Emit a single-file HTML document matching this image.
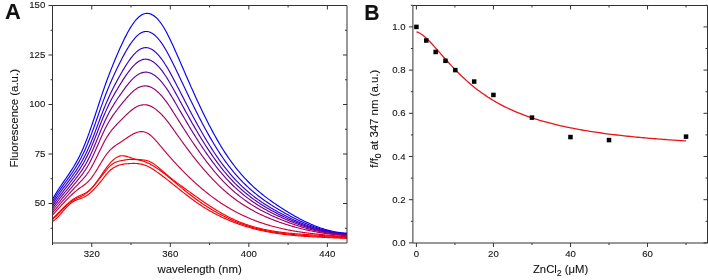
<!DOCTYPE html>
<html><head><meta charset="utf-8"><style>
html,body{margin:0;padding:0;background:#fff;width:708px;height:280px;overflow:hidden}
svg{display:block;will-change:transform}
text{font-family:"Liberation Sans",sans-serif;fill:#111;stroke:#111;stroke-width:0.1px}
</style></head><body>
<svg width="708" height="280" viewBox="0 0 708 280" font-family="Liberation Sans, sans-serif" fill="#222">
<defs><clipPath id="clipA"><rect x="52.5" y="5.5" width="294.5" height="237.5"/></clipPath></defs>
<rect x="0" y="0" width="708" height="280" fill="#fff"/>
<g clip-path="url(#clipA)"><path d="M52.5,199.38 53.5,197.56 54.5,195.80 55.5,194.10 56.5,192.45 57.5,190.85 58.5,189.29 59.5,187.76 60.5,186.25 61.5,184.78 62.5,183.32 63.5,181.87 64.5,180.43 65.5,179.00 66.5,177.56 67.5,176.11 68.5,174.65 69.5,173.17 70.5,171.66 71.5,170.13 72.5,168.56 73.5,166.95 74.5,165.29 75.5,163.59 76.5,161.82 77.5,160.00 78.5,158.11 79.5,156.14 80.5,154.10 81.5,151.97 82.5,149.76 83.5,147.45 84.5,145.05 85.5,142.56 86.5,139.99 87.5,137.35 88.5,134.64 89.5,131.86 90.5,129.03 91.5,126.15 92.5,123.22 93.5,120.25 94.5,117.25 95.5,114.22 96.5,111.17 97.5,108.11 98.5,105.03 99.5,101.96 100.5,98.91 101.5,95.88 102.5,92.90 103.5,89.97 104.5,87.09 105.5,84.27 106.5,81.50 107.5,78.78 108.5,76.10 109.5,73.47 110.5,70.89 111.5,68.34 112.5,65.84 113.5,63.37 114.5,60.95 115.5,58.55 116.5,56.19 117.5,53.87 118.5,51.57 119.5,49.31 120.5,47.08 121.5,44.89 122.5,42.75 123.5,40.66 124.5,38.61 125.5,36.62 126.5,34.69 127.5,32.82 128.5,31.02 129.5,29.28 130.5,27.61 131.5,26.02 132.5,24.51 133.5,23.08 134.5,21.74 135.5,20.48 136.5,19.32 137.5,18.26 138.5,17.29 139.5,16.43 140.5,15.67 141.5,15.02 142.5,14.48 143.5,14.05 144.5,13.72 145.5,13.50 146.5,13.39 147.5,13.38 148.5,13.47 149.5,13.67 150.5,13.98 151.5,14.38 152.5,14.89 153.5,15.50 154.5,16.21 155.5,17.02 156.5,17.93 157.5,18.94 158.5,20.05 159.5,21.25 160.5,22.56 161.5,23.96 162.5,25.45 163.5,27.04 164.5,28.72 165.5,30.48 166.5,32.31 167.5,34.21 168.5,36.18 169.5,38.20 170.5,40.27 171.5,42.39 172.5,44.55 173.5,46.74 174.5,48.95 175.5,51.19 176.5,53.45 177.5,55.72 178.5,58.01 179.5,60.31 180.5,62.61 181.5,64.92 182.5,67.24 183.5,69.56 184.5,71.87 185.5,74.19 186.5,76.49 187.5,78.79 188.5,81.07 189.5,83.35 190.5,85.61 191.5,87.86 192.5,90.10 193.5,92.32 194.5,94.53 195.5,96.73 196.5,98.91 197.5,101.07 198.5,103.22 199.5,105.35 200.5,107.47 201.5,109.57 202.5,111.65 203.5,113.71 204.5,115.76 205.5,117.78 206.5,119.78 207.5,121.77 208.5,123.73 209.5,125.67 210.5,127.59 211.5,129.49 212.5,131.36 213.5,133.21 214.5,135.04 215.5,136.84 216.5,138.61 217.5,140.36 218.5,142.09 219.5,143.79 220.5,145.46 221.5,147.10 222.5,148.72 223.5,150.30 224.5,151.86 225.5,153.40 226.5,154.90 227.5,156.38 228.5,157.83 229.5,159.26 230.5,160.66 231.5,162.04 232.5,163.39 233.5,164.72 234.5,166.02 235.5,167.30 236.5,168.56 237.5,169.79 238.5,171.01 239.5,172.20 240.5,173.37 241.5,174.52 242.5,175.65 243.5,176.76 244.5,177.84 245.5,178.91 246.5,179.97 247.5,181.00 248.5,182.01 249.5,183.01 250.5,183.99 251.5,184.95 252.5,185.90 253.5,186.83 254.5,187.74 255.5,188.64 256.5,189.53 257.5,190.40 258.5,191.25 259.5,192.10 260.5,192.93 261.5,193.74 262.5,194.55 263.5,195.34 264.5,196.12 265.5,196.89 266.5,197.65 267.5,198.40 268.5,199.14 269.5,199.87 270.5,200.59 271.5,201.30 272.5,202.00 273.5,202.70 274.5,203.38 275.5,204.06 276.5,204.74 277.5,205.40 278.5,206.07 279.5,206.72 280.5,207.37 281.5,208.02 282.5,208.66 283.5,209.29 284.5,209.92 285.5,210.55 286.5,211.17 287.5,211.78 288.5,212.39 289.5,212.99 290.5,213.58 291.5,214.17 292.5,214.76 293.5,215.33 294.5,215.90 295.5,216.46 296.5,217.02 297.5,217.57 298.5,218.11 299.5,218.64 300.5,219.17 301.5,219.69 302.5,220.20 303.5,220.70 304.5,221.20 305.5,221.69 306.5,222.17 307.5,222.64 308.5,223.10 309.5,223.55 310.5,224.00 311.5,224.43 312.5,224.86 313.5,225.28 314.5,225.68 315.5,226.08 316.5,226.47 317.5,226.85 318.5,227.22 319.5,227.58 320.5,227.93 321.5,228.27 322.5,228.60 323.5,228.92 324.5,229.23 325.5,229.52 326.5,229.81 327.5,230.09 328.5,230.35 329.5,230.60 330.5,230.84 331.5,231.07 332.5,231.29 333.5,231.50 334.5,231.69 335.5,231.88 336.5,232.05 337.5,232.20 338.5,232.35 339.5,232.48 340.5,232.60 341.5,232.71 342.5,232.80 343.5,232.89 344.5,232.95 345.5,233.01 347.0,233.06" fill="none" stroke="rgb(0,0,255)" stroke-width="1.15" stroke-linejoin="round"/>
<path d="M52.5,201.62 53.5,199.91 54.5,198.25 55.5,196.64 56.5,195.06 57.5,193.53 58.5,192.03 59.5,190.57 60.5,189.12 61.5,187.70 62.5,186.30 63.5,184.90 64.5,183.52 65.5,182.14 66.5,180.76 67.5,179.38 68.5,177.98 69.5,176.58 70.5,175.15 71.5,173.71 72.5,172.23 73.5,170.73 74.5,169.19 75.5,167.62 76.5,166.00 77.5,164.33 78.5,162.61 79.5,160.83 80.5,158.99 81.5,157.09 82.5,155.10 83.5,153.04 84.5,150.89 85.5,148.67 86.5,146.37 87.5,144.00 88.5,141.56 89.5,139.05 90.5,136.48 91.5,133.85 92.5,131.17 93.5,128.44 94.5,125.68 95.5,122.88 96.5,120.06 97.5,117.22 98.5,114.37 99.5,111.52 100.5,108.68 101.5,105.86 102.5,103.09 103.5,100.36 104.5,97.69 105.5,95.07 106.5,92.50 107.5,89.99 108.5,87.53 109.5,85.13 110.5,82.78 111.5,80.48 112.5,78.22 113.5,76.00 114.5,73.83 115.5,71.69 116.5,69.58 117.5,67.51 118.5,65.46 119.5,63.44 120.5,61.46 121.5,59.50 122.5,57.58 123.5,55.70 124.5,53.86 125.5,52.07 126.5,50.32 127.5,48.63 128.5,47.00 129.5,45.42 130.5,43.91 131.5,42.47 132.5,41.10 133.5,39.81 134.5,38.59 135.5,37.46 136.5,36.42 137.5,35.46 138.5,34.60 139.5,33.84 140.5,33.18 141.5,32.62 142.5,32.17 143.5,31.83 144.5,31.60 145.5,31.47 146.5,31.46 147.5,31.54 148.5,31.74 149.5,32.03 150.5,32.43 151.5,32.93 152.5,33.52 153.5,34.21 154.5,35.00 155.5,35.87 156.5,36.84 157.5,37.90 158.5,39.04 159.5,40.26 160.5,41.57 161.5,42.96 162.5,44.43 163.5,45.98 164.5,47.59 165.5,49.28 166.5,51.02 167.5,52.81 168.5,54.66 169.5,56.55 170.5,58.47 171.5,60.44 172.5,62.43 173.5,64.45 174.5,66.50 175.5,68.56 176.5,70.63 177.5,72.72 178.5,74.81 179.5,76.92 180.5,79.03 181.5,81.14 182.5,83.26 183.5,85.37 184.5,87.49 185.5,89.60 186.5,91.70 187.5,93.79 188.5,95.87 189.5,97.94 190.5,100.00 191.5,102.05 192.5,104.09 193.5,106.11 194.5,108.12 195.5,110.11 196.5,112.10 197.5,114.06 198.5,116.02 199.5,117.95 200.5,119.88 201.5,121.78 202.5,123.67 203.5,125.54 204.5,127.40 205.5,129.23 206.5,131.05 207.5,132.85 208.5,134.63 209.5,136.39 210.5,138.13 211.5,139.85 212.5,141.55 213.5,143.23 214.5,144.89 215.5,146.52 216.5,148.13 217.5,149.72 218.5,151.28 219.5,152.82 220.5,154.34 221.5,155.83 222.5,157.30 223.5,158.74 224.5,160.15 225.5,161.54 226.5,162.91 227.5,164.25 228.5,165.57 229.5,166.87 230.5,168.14 231.5,169.39 232.5,170.62 233.5,171.83 234.5,173.02 235.5,174.18 236.5,175.33 237.5,176.45 238.5,177.55 239.5,178.64 240.5,179.70 241.5,180.75 242.5,181.78 243.5,182.79 244.5,183.78 245.5,184.76 246.5,185.71 247.5,186.65 248.5,187.58 249.5,188.49 250.5,189.38 251.5,190.26 252.5,191.12 253.5,191.97 254.5,192.80 255.5,193.62 256.5,194.42 257.5,195.22 258.5,196.00 259.5,196.76 260.5,197.52 261.5,198.26 262.5,198.99 263.5,199.71 264.5,200.42 265.5,201.12 266.5,201.81 267.5,202.49 268.5,203.16 269.5,203.82 270.5,204.48 271.5,205.12 272.5,205.76 273.5,206.39 274.5,207.01 275.5,207.62 276.5,208.23 277.5,208.84 278.5,209.43 279.5,210.02 280.5,210.61 281.5,211.19 282.5,211.77 283.5,212.34 284.5,212.90 285.5,213.46 286.5,214.02 287.5,214.57 288.5,215.11 289.5,215.65 290.5,216.18 291.5,216.71 292.5,217.23 293.5,217.74 294.5,218.25 295.5,218.75 296.5,219.25 297.5,219.74 298.5,220.22 299.5,220.70 300.5,221.16 301.5,221.63 302.5,222.08 303.5,222.53 304.5,222.97 305.5,223.40 306.5,223.83 307.5,224.24 308.5,224.65 309.5,225.06 310.5,225.45 311.5,225.84 312.5,226.22 313.5,226.59 314.5,226.95 315.5,227.31 316.5,227.65 317.5,227.99 318.5,228.32 319.5,228.64 320.5,228.95 321.5,229.25 322.5,229.54 323.5,229.83 324.5,230.10 325.5,230.37 326.5,230.62 327.5,230.87 328.5,231.11 329.5,231.34 330.5,231.55 331.5,231.76 332.5,231.96 333.5,232.15 334.5,232.32 335.5,232.49 336.5,232.65 337.5,232.79 338.5,232.93 339.5,233.05 340.5,233.17 341.5,233.27 342.5,233.36 343.5,233.44 344.5,233.51 345.5,233.57 347.0,233.64" fill="none" stroke="rgb(26,0,229)" stroke-width="1.15" stroke-linejoin="round"/>
<path d="M52.5,203.87 53.5,202.26 54.5,200.70 55.5,199.17 56.5,197.67 57.5,196.21 58.5,194.78 59.5,193.37 60.5,191.99 61.5,190.62 62.5,189.27 63.5,187.93 64.5,186.60 65.5,185.28 66.5,183.95 67.5,182.63 68.5,181.30 69.5,179.96 70.5,178.61 71.5,177.24 72.5,175.86 73.5,174.45 74.5,173.02 75.5,171.56 76.5,170.06 77.5,168.54 78.5,166.97 79.5,165.36 80.5,163.70 81.5,161.99 82.5,160.21 83.5,158.36 84.5,156.44 85.5,154.45 86.5,152.38 87.5,150.25 88.5,148.04 89.5,145.76 90.5,143.41 91.5,141.00 92.5,138.53 93.5,136.01 94.5,133.44 95.5,130.84 96.5,128.21 97.5,125.56 98.5,122.89 99.5,120.22 100.5,117.57 101.5,114.94 102.5,112.34 103.5,109.79 104.5,107.30 105.5,104.86 106.5,102.48 107.5,100.16 108.5,97.90 109.5,95.71 110.5,93.57 111.5,91.48 112.5,89.45 113.5,87.46 114.5,85.52 115.5,83.61 116.5,81.73 117.5,79.89 118.5,78.07 119.5,76.27 120.5,74.50 121.5,72.76 122.5,71.04 123.5,69.35 124.5,67.69 125.5,66.08 126.5,64.50 127.5,62.97 128.5,61.49 129.5,60.07 130.5,58.70 131.5,57.39 132.5,56.15 133.5,54.98 134.5,53.89 135.5,52.87 136.5,51.93 137.5,51.07 138.5,50.31 139.5,49.63 140.5,49.06 141.5,48.58 142.5,48.20 143.5,47.91 144.5,47.72 145.5,47.64 146.5,47.65 147.5,47.77 148.5,47.99 149.5,48.30 150.5,48.71 151.5,49.21 152.5,49.80 153.5,50.48 154.5,51.25 155.5,52.10 156.5,53.03 157.5,54.04 158.5,55.13 159.5,56.30 160.5,57.54 161.5,58.86 162.5,60.24 163.5,61.69 164.5,63.20 165.5,64.78 166.5,66.40 167.5,68.08 168.5,69.81 169.5,71.58 170.5,73.38 171.5,75.22 172.5,77.08 173.5,78.97 174.5,80.87 175.5,82.78 176.5,84.71 177.5,86.64 178.5,88.58 179.5,90.53 180.5,92.48 181.5,94.43 182.5,96.38 183.5,98.33 184.5,100.28 185.5,102.22 186.5,104.16 187.5,106.08 188.5,108.00 189.5,109.90 190.5,111.80 191.5,113.68 192.5,115.55 193.5,117.41 194.5,119.25 195.5,121.08 196.5,122.90 197.5,124.71 198.5,126.50 199.5,128.28 200.5,130.04 201.5,131.79 202.5,133.52 203.5,135.24 204.5,136.94 205.5,138.62 206.5,140.28 207.5,141.93 208.5,143.56 209.5,145.18 210.5,146.77 211.5,148.35 212.5,149.90 213.5,151.44 214.5,152.96 215.5,154.45 216.5,155.93 217.5,157.38 218.5,158.81 219.5,160.23 220.5,161.61 221.5,162.98 222.5,164.32 223.5,165.64 224.5,166.94 225.5,168.22 226.5,169.47 227.5,170.70 228.5,171.91 229.5,173.10 230.5,174.27 231.5,175.42 232.5,176.55 233.5,177.66 234.5,178.75 235.5,179.82 236.5,180.87 237.5,181.91 238.5,182.92 239.5,183.92 240.5,184.90 241.5,185.86 242.5,186.80 243.5,187.73 244.5,188.64 245.5,189.54 246.5,190.42 247.5,191.29 248.5,192.14 249.5,192.97 250.5,193.79 251.5,194.60 252.5,195.39 253.5,196.17 254.5,196.94 255.5,197.69 256.5,198.43 257.5,199.16 258.5,199.88 259.5,200.58 260.5,201.28 261.5,201.96 262.5,202.63 263.5,203.30 264.5,203.95 265.5,204.59 266.5,205.22 267.5,205.85 268.5,206.46 269.5,207.07 270.5,207.66 271.5,208.25 272.5,208.84 273.5,209.41 274.5,209.98 275.5,210.54 276.5,211.10 277.5,211.65 278.5,212.19 279.5,212.73 280.5,213.26 281.5,213.79 282.5,214.31 283.5,214.83 284.5,215.35 285.5,215.85 286.5,216.36 287.5,216.85 288.5,217.35 289.5,217.83 290.5,218.31 291.5,218.79 292.5,219.26 293.5,219.72 294.5,220.18 295.5,220.63 296.5,221.08 297.5,221.52 298.5,221.95 299.5,222.38 300.5,222.80 301.5,223.21 302.5,223.62 303.5,224.02 304.5,224.42 305.5,224.81 306.5,225.19 307.5,225.56 308.5,225.93 309.5,226.29 310.5,226.64 311.5,226.99 312.5,227.33 313.5,227.66 314.5,227.99 315.5,228.31 316.5,228.62 317.5,228.92 318.5,229.21 319.5,229.50 320.5,229.78 321.5,230.05 322.5,230.32 323.5,230.57 324.5,230.82 325.5,231.06 326.5,231.29 327.5,231.51 328.5,231.73 329.5,231.94 330.5,232.13 331.5,232.32 332.5,232.50 333.5,232.68 334.5,232.84 335.5,232.99 336.5,233.14 337.5,233.28 338.5,233.40 339.5,233.52 340.5,233.63 341.5,233.73 342.5,233.82 343.5,233.90 344.5,233.97 345.5,234.04 347.0,234.11" fill="none" stroke="rgb(51,0,204)" stroke-width="1.15" stroke-linejoin="round"/>
<path d="M52.5,206.12 53.5,204.61 54.5,203.14 55.5,201.70 56.5,200.28 57.5,198.89 58.5,197.53 59.5,196.18 60.5,194.86 61.5,193.55 62.5,192.25 63.5,190.96 64.5,189.68 65.5,188.40 66.5,187.12 67.5,185.84 68.5,184.55 69.5,183.26 70.5,181.96 71.5,180.65 72.5,179.33 73.5,177.99 74.5,176.63 75.5,175.24 76.5,173.84 77.5,172.40 78.5,170.93 79.5,169.44 80.5,167.90 81.5,166.31 82.5,164.66 83.5,162.95 84.5,161.16 85.5,159.31 86.5,157.38 87.5,155.38 88.5,153.30 89.5,151.14 90.5,148.91 91.5,146.61 92.5,144.24 93.5,141.81 94.5,139.34 95.5,136.82 96.5,134.28 97.5,131.72 98.5,129.14 99.5,126.57 100.5,124.01 101.5,121.48 102.5,118.99 103.5,116.55 104.5,114.18 105.5,111.87 106.5,109.62 107.5,107.43 108.5,105.32 109.5,103.27 110.5,101.29 111.5,99.36 112.5,97.48 113.5,95.66 114.5,93.88 115.5,92.13 116.5,90.42 117.5,88.74 118.5,87.08 119.5,85.45 120.5,83.83 121.5,82.24 122.5,80.66 123.5,79.11 124.5,77.59 125.5,76.10 126.5,74.64 127.5,73.23 128.5,71.86 129.5,70.54 130.5,69.28 131.5,68.07 132.5,66.92 133.5,65.84 134.5,64.82 135.5,63.88 136.5,63.02 137.5,62.24 138.5,61.54 139.5,60.94 140.5,60.42 141.5,59.99 142.5,59.66 143.5,59.41 144.5,59.25 145.5,59.19 146.5,59.23 147.5,59.36 148.5,59.59 149.5,59.91 150.5,60.32 151.5,60.82 152.5,61.41 153.5,62.07 154.5,62.82 155.5,63.65 156.5,64.55 157.5,65.53 158.5,66.58 159.5,67.70 160.5,68.89 161.5,70.14 162.5,71.46 163.5,72.84 164.5,74.28 165.5,75.77 166.5,77.31 167.5,78.91 168.5,80.55 169.5,82.23 170.5,83.95 171.5,85.70 172.5,87.47 173.5,89.26 174.5,91.05 175.5,92.86 176.5,94.68 177.5,96.51 178.5,98.34 179.5,100.17 180.5,102.01 181.5,103.85 182.5,105.68 183.5,107.52 184.5,109.35 185.5,111.17 186.5,112.99 187.5,114.79 188.5,116.59 189.5,118.38 190.5,120.15 191.5,121.92 192.5,123.67 193.5,125.41 194.5,127.14 195.5,128.86 196.5,130.56 197.5,132.25 198.5,133.93 199.5,135.59 200.5,137.24 201.5,138.88 202.5,140.50 203.5,142.10 204.5,143.69 205.5,145.27 206.5,146.83 207.5,148.37 208.5,149.89 209.5,151.40 210.5,152.89 211.5,154.36 212.5,155.82 213.5,157.26 214.5,158.67 215.5,160.07 216.5,161.45 217.5,162.81 218.5,164.15 219.5,165.47 220.5,166.77 221.5,168.05 222.5,169.30 223.5,170.54 224.5,171.75 225.5,172.95 226.5,174.12 227.5,175.28 228.5,176.41 229.5,177.52 230.5,178.62 231.5,179.70 232.5,180.75 233.5,181.79 234.5,182.81 235.5,183.82 236.5,184.80 237.5,185.77 238.5,186.72 239.5,187.66 240.5,188.58 241.5,189.48 242.5,190.36 243.5,191.24 244.5,192.09 245.5,192.93 246.5,193.76 247.5,194.57 248.5,195.37 249.5,196.15 250.5,196.92 251.5,197.68 252.5,198.42 253.5,199.16 254.5,199.87 255.5,200.58 256.5,201.28 257.5,201.96 258.5,202.63 259.5,203.29 260.5,203.94 261.5,204.58 262.5,205.21 263.5,205.83 264.5,206.45 265.5,207.05 266.5,207.64 267.5,208.22 268.5,208.80 269.5,209.36 270.5,209.92 271.5,210.47 272.5,211.02 273.5,211.56 274.5,212.09 275.5,212.61 276.5,213.13 277.5,213.64 278.5,214.15 279.5,214.65 280.5,215.14 281.5,215.63 282.5,216.12 283.5,216.60 284.5,217.08 285.5,217.55 286.5,218.01 287.5,218.47 288.5,218.93 289.5,219.38 290.5,219.82 291.5,220.26 292.5,220.69 293.5,221.12 294.5,221.54 295.5,221.96 296.5,222.37 297.5,222.78 298.5,223.18 299.5,223.57 300.5,223.96 301.5,224.34 302.5,224.71 303.5,225.08 304.5,225.44 305.5,225.80 306.5,226.15 307.5,226.50 308.5,226.83 309.5,227.16 310.5,227.49 311.5,227.81 312.5,228.12 313.5,228.42 314.5,228.72 315.5,229.01 316.5,229.30 317.5,229.58 318.5,229.85 319.5,230.11 320.5,230.37 321.5,230.62 322.5,230.86 323.5,231.10 324.5,231.33 325.5,231.55 326.5,231.76 327.5,231.97 328.5,232.17 329.5,232.36 330.5,232.54 331.5,232.72 332.5,232.89 333.5,233.05 334.5,233.20 335.5,233.35 336.5,233.49 337.5,233.62 338.5,233.74 339.5,233.85 340.5,233.96 341.5,234.06 342.5,234.15 343.5,234.23 344.5,234.30 345.5,234.36 347.0,234.45" fill="none" stroke="rgb(77,0,178)" stroke-width="1.15" stroke-linejoin="round"/>
<path d="M52.5,208.35 53.5,206.95 54.5,205.57 55.5,204.21 56.5,202.88 57.5,201.56 58.5,200.26 59.5,198.97 60.5,197.70 61.5,196.45 62.5,195.20 63.5,193.97 64.5,192.73 65.5,191.50 66.5,190.27 67.5,189.04 68.5,187.81 69.5,186.57 70.5,185.33 71.5,184.08 72.5,182.83 73.5,181.56 74.5,180.28 75.5,178.99 76.5,177.68 77.5,176.36 78.5,175.01 79.5,173.64 80.5,172.24 81.5,170.80 82.5,169.31 83.5,167.76 84.5,166.14 85.5,164.46 86.5,162.70 87.5,160.87 88.5,158.95 89.5,156.96 90.5,154.88 91.5,152.71 92.5,150.48 93.5,148.19 94.5,145.84 95.5,143.46 96.5,141.04 97.5,138.60 98.5,136.15 99.5,133.70 100.5,131.26 101.5,128.86 102.5,126.50 103.5,124.20 104.5,121.97 105.5,119.80 106.5,117.70 107.5,115.68 108.5,113.72 109.5,111.84 110.5,110.03 111.5,108.28 112.5,106.59 113.5,104.94 114.5,103.35 115.5,101.79 116.5,100.27 117.5,98.77 118.5,97.30 119.5,95.84 120.5,94.40 121.5,92.98 122.5,91.56 123.5,90.17 124.5,88.79 125.5,87.45 126.5,86.13 127.5,84.85 128.5,83.61 129.5,82.41 130.5,81.26 131.5,80.16 132.5,79.12 133.5,78.13 134.5,77.21 135.5,76.36 136.5,75.59 137.5,74.89 138.5,74.27 139.5,73.74 140.5,73.29 141.5,72.91 142.5,72.61 143.5,72.38 144.5,72.23 145.5,72.16 146.5,72.18 147.5,72.29 148.5,72.48 149.5,72.75 150.5,73.11 151.5,73.54 152.5,74.05 153.5,74.64 154.5,75.29 155.5,76.03 156.5,76.83 157.5,77.70 158.5,78.63 159.5,79.64 160.5,80.71 161.5,81.84 162.5,83.03 163.5,84.29 164.5,85.60 165.5,86.97 166.5,88.40 167.5,89.88 168.5,91.42 169.5,93.00 170.5,94.64 171.5,96.30 172.5,97.97 173.5,99.66 174.5,101.35 175.5,103.06 176.5,104.77 177.5,106.49 178.5,108.21 179.5,109.93 180.5,111.65 181.5,113.37 182.5,115.09 183.5,116.80 184.5,118.51 185.5,120.22 186.5,121.91 187.5,123.60 188.5,125.28 189.5,126.95 190.5,128.60 191.5,130.25 192.5,131.88 193.5,133.51 194.5,135.12 195.5,136.72 196.5,138.31 197.5,139.88 198.5,141.44 199.5,142.99 200.5,144.53 201.5,146.05 202.5,147.56 203.5,149.05 204.5,150.53 205.5,151.99 206.5,153.44 207.5,154.88 208.5,156.29 209.5,157.70 210.5,159.08 211.5,160.45 212.5,161.80 213.5,163.14 214.5,164.46 215.5,165.76 216.5,167.04 217.5,168.30 218.5,169.55 219.5,170.78 220.5,171.98 221.5,173.17 222.5,174.34 223.5,175.49 224.5,176.62 225.5,177.73 226.5,178.82 227.5,179.90 228.5,180.95 229.5,181.99 230.5,183.01 231.5,184.01 232.5,185.00 233.5,185.97 234.5,186.92 235.5,187.86 236.5,188.78 237.5,189.68 238.5,190.57 239.5,191.44 240.5,192.30 241.5,193.14 242.5,193.97 243.5,194.78 244.5,195.58 245.5,196.36 246.5,197.13 247.5,197.89 248.5,198.64 249.5,199.37 250.5,200.09 251.5,200.79 252.5,201.49 253.5,202.17 254.5,202.84 255.5,203.50 256.5,204.15 257.5,204.79 258.5,205.42 259.5,206.03 260.5,206.64 261.5,207.24 262.5,207.82 263.5,208.40 264.5,208.97 265.5,209.53 266.5,210.08 267.5,210.63 268.5,211.16 269.5,211.69 270.5,212.21 271.5,212.72 272.5,213.22 273.5,213.72 274.5,214.22 275.5,214.70 276.5,215.18 277.5,215.65 278.5,216.12 279.5,216.59 280.5,217.04 281.5,217.50 282.5,217.95 283.5,218.39 284.5,218.83 285.5,219.26 286.5,219.69 287.5,220.11 288.5,220.53 289.5,220.94 290.5,221.35 291.5,221.75 292.5,222.15 293.5,222.54 294.5,222.92 295.5,223.31 296.5,223.68 297.5,224.05 298.5,224.41 299.5,224.77 300.5,225.13 301.5,225.47 302.5,225.82 303.5,226.15 304.5,226.48 305.5,226.81 306.5,227.13 307.5,227.44 308.5,227.75 309.5,228.05 310.5,228.34 311.5,228.63 312.5,228.92 313.5,229.19 314.5,229.47 315.5,229.73 316.5,229.99 317.5,230.24 318.5,230.49 319.5,230.73 320.5,230.97 321.5,231.19 322.5,231.42 323.5,231.63 324.5,231.84 325.5,232.04 326.5,232.24 327.5,232.43 328.5,232.61 329.5,232.79 330.5,232.96 331.5,233.12 332.5,233.28 333.5,233.43 334.5,233.57 335.5,233.71 336.5,233.84 337.5,233.96 338.5,234.08 339.5,234.19 340.5,234.29 341.5,234.39 342.5,234.47 343.5,234.56 344.5,234.63 345.5,234.70 347.0,234.78" fill="none" stroke="rgb(105,0,150)" stroke-width="1.15" stroke-linejoin="round"/>
<path d="M52.5,210.60 53.5,209.30 54.5,208.02 55.5,206.74 56.5,205.49 57.5,204.24 58.5,203.01 59.5,201.78 60.5,200.57 61.5,199.37 62.5,198.18 63.5,196.99 64.5,195.81 65.5,194.63 66.5,193.45 67.5,192.27 68.5,191.09 69.5,189.91 70.5,188.73 71.5,187.55 72.5,186.37 73.5,185.18 74.5,183.99 75.5,182.79 76.5,181.59 77.5,180.38 78.5,179.16 79.5,177.93 80.5,176.67 81.5,175.39 82.5,174.06 83.5,172.69 84.5,171.25 85.5,169.74 86.5,168.17 87.5,166.51 88.5,164.78 89.5,162.95 90.5,161.04 91.5,159.03 92.5,156.95 93.5,154.80 94.5,152.60 95.5,150.35 96.5,148.07 97.5,145.76 98.5,143.45 99.5,141.13 100.5,138.84 101.5,136.57 102.5,134.35 103.5,132.19 104.5,130.10 105.5,128.10 106.5,126.15 107.5,124.29 108.5,122.50 109.5,120.80 110.5,119.16 111.5,117.60 112.5,116.10 113.5,114.65 114.5,113.24 115.5,111.88 116.5,110.55 117.5,109.25 118.5,107.97 119.5,106.70 120.5,105.45 121.5,104.20 122.5,102.96 123.5,101.72 124.5,100.51 125.5,99.31 126.5,98.14 127.5,97.00 128.5,95.88 129.5,94.81 130.5,93.78 131.5,92.80 132.5,91.86 133.5,90.98 134.5,90.16 135.5,89.41 136.5,88.72 137.5,88.10 138.5,87.57 139.5,87.11 140.5,86.74 141.5,86.43 142.5,86.19 143.5,86.01 144.5,85.92 145.5,85.90 146.5,85.96 147.5,86.11 148.5,86.34 149.5,86.65 150.5,87.04 151.5,87.50 152.5,88.04 153.5,88.64 154.5,89.31 155.5,90.05 156.5,90.85 157.5,91.71 158.5,92.64 159.5,93.62 160.5,94.65 161.5,95.74 162.5,96.88 163.5,98.07 164.5,99.31 165.5,100.60 166.5,101.95 167.5,103.34 168.5,104.78 169.5,106.26 170.5,107.79 171.5,109.33 172.5,110.89 173.5,112.46 174.5,114.03 175.5,115.61 176.5,117.19 177.5,118.77 178.5,120.35 179.5,121.93 180.5,123.51 181.5,125.09 182.5,126.66 183.5,128.23 184.5,129.80 185.5,131.35 186.5,132.90 187.5,134.44 188.5,135.97 189.5,137.49 190.5,139.00 191.5,140.50 192.5,141.99 193.5,143.47 194.5,144.94 195.5,146.39 196.5,147.84 197.5,149.27 198.5,150.69 199.5,152.10 200.5,153.49 201.5,154.87 202.5,156.24 203.5,157.60 204.5,158.94 205.5,160.27 206.5,161.58 207.5,162.88 208.5,164.17 209.5,165.44 210.5,166.70 211.5,167.94 212.5,169.17 213.5,170.38 214.5,171.57 215.5,172.75 216.5,173.92 217.5,175.06 218.5,176.19 219.5,177.30 220.5,178.40 221.5,179.48 222.5,180.54 223.5,181.58 224.5,182.61 225.5,183.62 226.5,184.61 227.5,185.59 228.5,186.55 229.5,187.49 230.5,188.42 231.5,189.33 232.5,190.23 233.5,191.11 234.5,191.98 235.5,192.83 236.5,193.67 237.5,194.49 238.5,195.30 239.5,196.09 240.5,196.87 241.5,197.64 242.5,198.40 243.5,199.14 244.5,199.87 245.5,200.58 246.5,201.29 247.5,201.98 248.5,202.66 249.5,203.32 250.5,203.98 251.5,204.63 252.5,205.26 253.5,205.88 254.5,206.49 255.5,207.10 256.5,207.69 257.5,208.27 258.5,208.84 259.5,209.40 260.5,209.96 261.5,210.50 262.5,211.03 263.5,211.56 264.5,212.08 265.5,212.59 266.5,213.09 267.5,213.58 268.5,214.07 269.5,214.55 270.5,215.02 271.5,215.48 272.5,215.94 273.5,216.39 274.5,216.84 275.5,217.27 276.5,217.71 277.5,218.13 278.5,218.56 279.5,218.97 280.5,219.38 281.5,219.79 282.5,220.19 283.5,220.59 284.5,220.98 285.5,221.37 286.5,221.75 287.5,222.13 288.5,222.50 289.5,222.86 290.5,223.23 291.5,223.58 292.5,223.93 293.5,224.28 294.5,224.62 295.5,224.96 296.5,225.29 297.5,225.62 298.5,225.94 299.5,226.26 300.5,226.57 301.5,226.87 302.5,227.17 303.5,227.47 304.5,227.76 305.5,228.05 306.5,228.33 307.5,228.60 308.5,228.87 309.5,229.14 310.5,229.40 311.5,229.65 312.5,229.90 313.5,230.14 314.5,230.38 315.5,230.61 316.5,230.84 317.5,231.06 318.5,231.28 319.5,231.49 320.5,231.70 321.5,231.90 322.5,232.10 323.5,232.29 324.5,232.47 325.5,232.65 326.5,232.83 327.5,233.00 328.5,233.16 329.5,233.32 330.5,233.47 331.5,233.62 332.5,233.76 333.5,233.90 334.5,234.03 335.5,234.15 336.5,234.27 337.5,234.39 338.5,234.50 339.5,234.60 340.5,234.70 341.5,234.79 342.5,234.88 343.5,234.96 344.5,235.03 345.5,235.10 347.0,235.20" fill="none" stroke="rgb(142,0,118)" stroke-width="1.15" stroke-linejoin="round"/>
<path d="M52.5,212.85 53.5,211.65 54.5,210.46 55.5,209.28 56.5,208.09 57.5,206.92 58.5,205.75 59.5,204.59 60.5,203.44 61.5,202.29 62.5,201.16 63.5,200.03 64.5,198.90 65.5,197.77 66.5,196.66 67.5,195.54 68.5,194.44 69.5,193.34 70.5,192.24 71.5,191.16 72.5,190.08 73.5,189.01 74.5,187.94 75.5,186.88 76.5,185.83 77.5,184.79 78.5,183.75 79.5,182.72 80.5,181.69 81.5,180.64 82.5,179.56 83.5,178.45 84.5,177.29 85.5,176.07 86.5,174.78 87.5,173.42 88.5,171.98 89.5,170.45 90.5,168.82 91.5,167.09 92.5,165.28 93.5,163.40 94.5,161.46 95.5,159.47 96.5,157.44 97.5,155.38 98.5,153.31 99.5,151.23 100.5,149.17 101.5,147.14 102.5,145.14 103.5,143.20 104.5,141.33 105.5,139.53 106.5,137.81 107.5,136.17 108.5,134.61 109.5,133.15 110.5,131.76 111.5,130.46 112.5,129.21 113.5,128.03 114.5,126.89 115.5,125.80 116.5,124.74 117.5,123.71 118.5,122.69 119.5,121.68 120.5,120.68 121.5,119.68 122.5,118.67 123.5,117.66 124.5,116.66 125.5,115.67 126.5,114.70 127.5,113.75 128.5,112.82 129.5,111.92 130.5,111.05 131.5,110.22 132.5,109.44 133.5,108.70 134.5,108.02 135.5,107.40 136.5,106.83 137.5,106.34 138.5,105.91 139.5,105.56 140.5,105.29 141.5,105.07 142.5,104.90 143.5,104.80 144.5,104.76 145.5,104.79 146.5,104.90 147.5,105.09 148.5,105.36 149.5,105.70 150.5,106.11 151.5,106.59 152.5,107.13 153.5,107.73 154.5,108.39 155.5,109.11 156.5,109.88 157.5,110.70 158.5,111.58 159.5,112.50 160.5,113.46 161.5,114.47 162.5,115.51 163.5,116.60 164.5,117.73 165.5,118.90 166.5,120.11 167.5,121.37 168.5,122.67 169.5,124.02 170.5,125.40 171.5,126.80 172.5,128.20 173.5,129.60 174.5,131.01 175.5,132.41 176.5,133.81 177.5,135.21 178.5,136.61 179.5,138.01 180.5,139.40 181.5,140.78 182.5,142.16 183.5,143.54 184.5,144.91 185.5,146.27 186.5,147.62 187.5,148.96 188.5,150.30 189.5,151.62 190.5,152.93 191.5,154.24 192.5,155.53 193.5,156.81 194.5,158.09 195.5,159.35 196.5,160.60 197.5,161.84 198.5,163.07 199.5,164.29 200.5,165.50 201.5,166.69 202.5,167.87 203.5,169.05 204.5,170.21 205.5,171.35 206.5,172.49 207.5,173.61 208.5,174.72 209.5,175.82 210.5,176.90 211.5,177.97 212.5,179.03 213.5,180.07 214.5,181.10 215.5,182.12 216.5,183.12 217.5,184.11 218.5,185.09 219.5,186.05 220.5,186.99 221.5,187.92 222.5,188.84 223.5,189.74 224.5,190.63 225.5,191.50 226.5,192.36 227.5,193.21 228.5,194.04 229.5,194.86 230.5,195.66 231.5,196.45 232.5,197.23 233.5,198.00 234.5,198.75 235.5,199.49 236.5,200.22 237.5,200.93 238.5,201.63 239.5,202.33 240.5,203.01 241.5,203.67 242.5,204.33 243.5,204.98 244.5,205.61 245.5,206.23 246.5,206.85 247.5,207.45 248.5,208.04 249.5,208.62 250.5,209.20 251.5,209.76 252.5,210.31 253.5,210.85 254.5,211.39 255.5,211.91 256.5,212.43 257.5,212.93 258.5,213.43 259.5,213.92 260.5,214.40 261.5,214.87 262.5,215.34 263.5,215.79 264.5,216.24 265.5,216.68 266.5,217.12 267.5,217.54 268.5,217.96 269.5,218.38 270.5,218.78 271.5,219.18 272.5,219.58 273.5,219.96 274.5,220.35 275.5,220.72 276.5,221.09 277.5,221.46 278.5,221.81 279.5,222.17 280.5,222.52 281.5,222.86 282.5,223.20 283.5,223.53 284.5,223.86 285.5,224.19 286.5,224.51 287.5,224.82 288.5,225.13 289.5,225.44 290.5,225.74 291.5,226.04 292.5,226.33 293.5,226.62 294.5,226.90 295.5,227.18 296.5,227.45 297.5,227.72 298.5,227.98 299.5,228.24 300.5,228.50 301.5,228.75 302.5,228.99 303.5,229.23 304.5,229.47 305.5,229.70 306.5,229.93 307.5,230.16 308.5,230.38 309.5,230.59 310.5,230.80 311.5,231.01 312.5,231.21 313.5,231.41 314.5,231.61 315.5,231.80 316.5,231.98 317.5,232.16 318.5,232.34 319.5,232.51 320.5,232.68 321.5,232.85 322.5,233.01 323.5,233.17 324.5,233.32 325.5,233.47 326.5,233.62 327.5,233.76 328.5,233.89 329.5,234.03 330.5,234.16 331.5,234.28 332.5,234.41 333.5,234.52 334.5,234.64 335.5,234.75 336.5,234.86 337.5,234.96 338.5,235.06 339.5,235.15 340.5,235.25 341.5,235.33 342.5,235.42 343.5,235.50 344.5,235.58 345.5,235.65 347.0,235.76" fill="none" stroke="rgb(172,0,88)" stroke-width="1.15" stroke-linejoin="round"/>
<path d="M52.5,215.10 53.5,214.00 54.5,212.91 55.5,211.81 56.5,210.70 57.5,209.60 58.5,208.50 59.5,207.40 60.5,206.31 61.5,205.22 62.5,204.14 63.5,203.06 64.5,202.00 65.5,200.95 66.5,199.91 67.5,198.89 68.5,197.88 69.5,196.89 70.5,195.92 71.5,194.97 72.5,194.04 73.5,193.14 74.5,192.26 75.5,191.41 76.5,190.59 77.5,189.79 78.5,189.03 79.5,188.30 80.5,187.59 81.5,186.90 82.5,186.20 83.5,185.49 84.5,184.75 85.5,183.97 86.5,183.14 87.5,182.25 88.5,181.28 89.5,180.22 90.5,179.06 91.5,177.80 92.5,176.45 93.5,175.02 94.5,173.53 95.5,171.97 96.5,170.37 97.5,168.73 98.5,167.07 99.5,165.40 100.5,163.72 101.5,162.05 102.5,160.41 103.5,158.81 104.5,157.25 105.5,155.76 106.5,154.35 107.5,153.02 108.5,151.79 109.5,150.67 110.5,149.64 111.5,148.70 112.5,147.82 113.5,147.02 114.5,146.26 115.5,145.55 116.5,144.87 117.5,144.22 118.5,143.58 119.5,142.94 120.5,142.30 121.5,141.64 122.5,140.96 123.5,140.28 124.5,139.58 125.5,138.89 126.5,138.19 127.5,137.51 128.5,136.84 129.5,136.18 130.5,135.55 131.5,134.95 132.5,134.38 133.5,133.85 134.5,133.36 135.5,132.92 136.5,132.53 137.5,132.20 138.5,131.94 139.5,131.74 140.5,131.61 141.5,131.56 142.5,131.60 143.5,131.72 144.5,131.94 145.5,132.25 146.5,132.67 147.5,133.19 148.5,133.81 149.5,134.51 150.5,135.29 151.5,136.15 152.5,137.07 153.5,138.05 154.5,139.09 155.5,140.17 156.5,141.29 157.5,142.44 158.5,143.61 159.5,144.80 160.5,146.00 161.5,147.20 162.5,148.40 163.5,149.59 164.5,150.78 165.5,151.95 166.5,153.12 167.5,154.27 168.5,155.42 169.5,156.56 170.5,157.69 171.5,158.81 172.5,159.93 173.5,161.03 174.5,162.13 175.5,163.22 176.5,164.30 177.5,165.37 178.5,166.43 179.5,167.48 180.5,168.52 181.5,169.56 182.5,170.58 183.5,171.60 184.5,172.61 185.5,173.61 186.5,174.60 187.5,175.58 188.5,176.55 189.5,177.52 190.5,178.47 191.5,179.41 192.5,180.35 193.5,181.28 194.5,182.19 195.5,183.10 196.5,184.00 197.5,184.89 198.5,185.77 199.5,186.64 200.5,187.50 201.5,188.36 202.5,189.20 203.5,190.03 204.5,190.86 205.5,191.67 206.5,192.48 207.5,193.28 208.5,194.06 209.5,194.84 210.5,195.61 211.5,196.36 212.5,197.11 213.5,197.85 214.5,198.58 215.5,199.30 216.5,200.01 217.5,200.71 218.5,201.40 219.5,202.08 220.5,202.75 221.5,203.41 222.5,204.06 223.5,204.70 224.5,205.33 225.5,205.96 226.5,206.57 227.5,207.18 228.5,207.77 229.5,208.36 230.5,208.94 231.5,209.51 232.5,210.07 233.5,210.62 234.5,211.16 235.5,211.70 236.5,212.22 237.5,212.74 238.5,213.25 239.5,213.75 240.5,214.25 241.5,214.73 242.5,215.21 243.5,215.68 244.5,216.14 245.5,216.60 246.5,217.04 247.5,217.48 248.5,217.92 249.5,218.34 250.5,218.76 251.5,219.17 252.5,219.57 253.5,219.96 254.5,220.35 255.5,220.74 256.5,221.11 257.5,221.48 258.5,221.84 259.5,222.19 260.5,222.54 261.5,222.88 262.5,223.22 263.5,223.55 264.5,223.87 265.5,224.19 266.5,224.50 267.5,224.81 268.5,225.10 269.5,225.40 270.5,225.69 271.5,225.97 272.5,226.24 273.5,226.51 274.5,226.78 275.5,227.04 276.5,227.29 277.5,227.54 278.5,227.79 279.5,228.03 280.5,228.26 281.5,228.49 282.5,228.72 283.5,228.94 284.5,229.15 285.5,229.36 286.5,229.57 287.5,229.77 288.5,229.97 289.5,230.16 290.5,230.35 291.5,230.54 292.5,230.72 293.5,230.90 294.5,231.07 295.5,231.24 296.5,231.41 297.5,231.57 298.5,231.73 299.5,231.88 300.5,232.03 301.5,232.18 302.5,232.33 303.5,232.47 304.5,232.61 305.5,232.75 306.5,232.88 307.5,233.01 308.5,233.14 309.5,233.26 310.5,233.39 311.5,233.51 312.5,233.62 313.5,233.74 314.5,233.85 315.5,233.96 316.5,234.07 317.5,234.18 318.5,234.28 319.5,234.39 320.5,234.49 321.5,234.59 322.5,234.68 323.5,234.78 324.5,234.87 325.5,234.97 326.5,235.06 327.5,235.15 328.5,235.24 329.5,235.33 330.5,235.41 331.5,235.50 332.5,235.59 333.5,235.67 334.5,235.76 335.5,235.84 336.5,235.92 337.5,236.00 338.5,236.09 339.5,236.17 340.5,236.25 341.5,236.33 342.5,236.41 343.5,236.49 344.5,236.57 345.5,236.66 347.0,236.78" fill="none" stroke="rgb(198,0,62)" stroke-width="1.15" stroke-linejoin="round"/>
<path d="M52.5,219.47 53.5,218.59 54.5,217.68 55.5,216.73 56.5,215.74 57.5,214.73 58.5,213.71 59.5,212.67 60.5,211.62 61.5,210.58 62.5,209.53 63.5,208.50 64.5,207.49 65.5,206.49 66.5,205.53 67.5,204.60 68.5,203.71 69.5,202.87 70.5,202.08 71.5,201.35 72.5,200.68 73.5,200.07 74.5,199.52 75.5,199.00 76.5,198.52 77.5,198.06 78.5,197.60 79.5,197.15 80.5,196.69 81.5,196.21 82.5,195.69 83.5,195.14 84.5,194.53 85.5,193.87 86.5,193.13 87.5,192.31 88.5,191.43 89.5,190.48 90.5,189.48 91.5,188.42 92.5,187.32 93.5,186.17 94.5,184.98 95.5,183.77 96.5,182.52 97.5,181.26 98.5,179.98 99.5,178.69 100.5,177.39 101.5,176.10 102.5,174.81 103.5,173.53 104.5,172.27 105.5,171.04 106.5,169.85 107.5,168.71 108.5,167.62 109.5,166.60 110.5,165.66 111.5,164.80 112.5,164.04 113.5,163.38 114.5,162.82 115.5,162.33 116.5,161.92 117.5,161.57 118.5,161.27 119.5,161.02 120.5,160.80 121.5,160.60 122.5,160.41 123.5,160.23 124.5,160.06 125.5,159.90 126.5,159.76 127.5,159.63 128.5,159.52 129.5,159.43 130.5,159.37 131.5,159.32 132.5,159.31 133.5,159.33 134.5,159.37 135.5,159.45 136.5,159.56 137.5,159.71 138.5,159.89 139.5,160.10 140.5,160.35 141.5,160.62 142.5,160.93 143.5,161.26 144.5,161.62 145.5,162.01 146.5,162.43 147.5,162.88 148.5,163.35 149.5,163.85 150.5,164.37 151.5,164.91 152.5,165.48 153.5,166.08 154.5,166.69 155.5,167.32 156.5,167.97 157.5,168.64 158.5,169.33 159.5,170.04 160.5,170.76 161.5,171.49 162.5,172.24 163.5,173.00 164.5,173.78 165.5,174.56 166.5,175.36 167.5,176.16 168.5,176.97 169.5,177.79 170.5,178.62 171.5,179.45 172.5,180.28 173.5,181.12 174.5,181.96 175.5,182.80 176.5,183.65 177.5,184.49 178.5,185.33 179.5,186.17 180.5,187.01 181.5,187.84 182.5,188.67 183.5,189.49 184.5,190.30 185.5,191.11 186.5,191.91 187.5,192.70 188.5,193.49 189.5,194.27 190.5,195.04 191.5,195.80 192.5,196.56 193.5,197.30 194.5,198.04 195.5,198.78 196.5,199.50 197.5,200.22 198.5,200.93 199.5,201.63 200.5,202.32 201.5,203.01 202.5,203.69 203.5,204.36 204.5,205.02 205.5,205.68 206.5,206.32 207.5,206.96 208.5,207.60 209.5,208.22 210.5,208.84 211.5,209.44 212.5,210.04 213.5,210.63 214.5,211.22 215.5,211.79 216.5,212.36 217.5,212.92 218.5,213.47 219.5,214.01 220.5,214.55 221.5,215.08 222.5,215.59 223.5,216.10 224.5,216.61 225.5,217.10 226.5,217.59 227.5,218.06 228.5,218.53 229.5,218.99 230.5,219.44 231.5,219.89 232.5,220.32 233.5,220.75 234.5,221.16 235.5,221.57 236.5,221.98 237.5,222.37 238.5,222.76 239.5,223.14 240.5,223.51 241.5,223.87 242.5,224.23 243.5,224.57 244.5,224.91 245.5,225.25 246.5,225.58 247.5,225.89 248.5,226.21 249.5,226.51 250.5,226.81 251.5,227.11 252.5,227.39 253.5,227.67 254.5,227.94 255.5,228.21 256.5,228.47 257.5,228.73 258.5,228.97 259.5,229.22 260.5,229.45 261.5,229.68 262.5,229.91 263.5,230.13 264.5,230.34 265.5,230.55 266.5,230.76 267.5,230.95 268.5,231.15 269.5,231.34 270.5,231.52 271.5,231.70 272.5,231.87 273.5,232.04 274.5,232.21 275.5,232.37 276.5,232.52 277.5,232.67 278.5,232.82 279.5,232.96 280.5,233.10 281.5,233.24 282.5,233.37 283.5,233.50 284.5,233.62 285.5,233.74 286.5,233.86 287.5,233.97 288.5,234.08 289.5,234.19 290.5,234.30 291.5,234.40 292.5,234.49 293.5,234.59 294.5,234.68 295.5,234.77 296.5,234.86 297.5,234.95 298.5,235.03 299.5,235.11 300.5,235.19 301.5,235.26 302.5,235.34 303.5,235.41 304.5,235.48 305.5,235.55 306.5,235.62 307.5,235.68 308.5,235.75 309.5,235.81 310.5,235.87 311.5,235.93 312.5,235.99 313.5,236.05 314.5,236.11 315.5,236.16 316.5,236.22 317.5,236.27 318.5,236.33 319.5,236.38 320.5,236.44 321.5,236.49 322.5,236.54 323.5,236.60 324.5,236.65 325.5,236.70 326.5,236.76 327.5,236.81 328.5,236.87 329.5,236.92 330.5,236.98 331.5,237.03 332.5,237.09 333.5,237.15 334.5,237.21 335.5,237.27 336.5,237.33 337.5,237.39 338.5,237.45 339.5,237.52 340.5,237.58 341.5,237.65 342.5,237.72 343.5,237.79 344.5,237.86 345.5,237.94 347.0,238.06" fill="none" stroke="rgb(240,0,10)" stroke-width="1.15" stroke-linejoin="round"/>
<path d="M52.5,221.41 53.5,220.76 54.5,220.01 55.5,219.18 56.5,218.28 57.5,217.31 58.5,216.28 59.5,215.22 60.5,214.12 61.5,213.00 62.5,211.86 63.5,210.72 64.5,209.59 65.5,208.48 66.5,207.39 67.5,206.34 68.5,205.34 69.5,204.40 70.5,203.53 71.5,202.73 72.5,202.02 73.5,201.41 74.5,200.86 75.5,200.38 76.5,199.95 77.5,199.56 78.5,199.19 79.5,198.84 80.5,198.49 81.5,198.13 82.5,197.75 83.5,197.33 84.5,196.86 85.5,196.34 86.5,195.74 87.5,195.07 88.5,194.33 89.5,193.52 90.5,192.65 91.5,191.73 92.5,190.76 93.5,189.74 94.5,188.69 95.5,187.60 96.5,186.48 97.5,185.34 98.5,184.17 99.5,182.98 100.5,181.77 101.5,180.53 102.5,179.27 103.5,177.99 104.5,176.71 105.5,175.44 106.5,174.21 107.5,173.04 108.5,171.96 109.5,170.96 110.5,170.05 111.5,169.22 112.5,168.47 113.5,167.79 114.5,167.18 115.5,166.64 116.5,166.15 117.5,165.73 118.5,165.36 119.5,165.04 120.5,164.76 121.5,164.52 122.5,164.32 123.5,164.15 124.5,164.01 125.5,163.89 126.5,163.79 127.5,163.71 128.5,163.63 129.5,163.57 130.5,163.51 131.5,163.47 132.5,163.44 133.5,163.43 134.5,163.43 135.5,163.45 136.5,163.50 137.5,163.58 138.5,163.68 139.5,163.81 140.5,163.97 141.5,164.17 142.5,164.41 143.5,164.68 144.5,165.00 145.5,165.36 146.5,165.77 147.5,166.22 148.5,166.70 149.5,167.22 150.5,167.78 151.5,168.36 152.5,168.98 153.5,169.61 154.5,170.27 155.5,170.95 156.5,171.64 157.5,172.35 158.5,173.07 159.5,173.79 160.5,174.53 161.5,175.27 162.5,176.02 163.5,176.78 164.5,177.55 165.5,178.32 166.5,179.09 167.5,179.88 168.5,180.66 169.5,181.45 170.5,182.24 171.5,183.04 172.5,183.84 173.5,184.64 174.5,185.44 175.5,186.24 176.5,187.04 177.5,187.85 178.5,188.65 179.5,189.45 180.5,190.25 181.5,191.04 182.5,191.84 183.5,192.63 184.5,193.42 185.5,194.20 186.5,194.98 187.5,195.75 188.5,196.51 189.5,197.27 190.5,198.03 191.5,198.77 192.5,199.51 193.5,200.24 194.5,200.96 195.5,201.67 196.5,202.37 197.5,203.06 198.5,203.75 199.5,204.42 200.5,205.08 201.5,205.74 202.5,206.38 203.5,207.02 204.5,207.64 205.5,208.26 206.5,208.87 207.5,209.47 208.5,210.06 209.5,210.64 210.5,211.21 211.5,211.78 212.5,212.33 213.5,212.88 214.5,213.42 215.5,213.95 216.5,214.47 217.5,214.99 218.5,215.49 219.5,215.99 220.5,216.48 221.5,216.96 222.5,217.43 223.5,217.90 224.5,218.36 225.5,218.81 226.5,219.25 227.5,219.69 228.5,220.12 229.5,220.54 230.5,220.95 231.5,221.36 232.5,221.76 233.5,222.15 234.5,222.54 235.5,222.91 236.5,223.29 237.5,223.65 238.5,224.01 239.5,224.36 240.5,224.71 241.5,225.04 242.5,225.38 243.5,225.70 244.5,226.02 245.5,226.33 246.5,226.64 247.5,226.94 248.5,227.24 249.5,227.52 250.5,227.81 251.5,228.08 252.5,228.36 253.5,228.62 254.5,228.88 255.5,229.14 256.5,229.38 257.5,229.63 258.5,229.87 259.5,230.10 260.5,230.33 261.5,230.55 262.5,230.77 263.5,230.98 264.5,231.19 265.5,231.39 266.5,231.59 267.5,231.79 268.5,231.98 269.5,232.16 270.5,232.34 271.5,232.52 272.5,232.69 273.5,232.86 274.5,233.02 275.5,233.18 276.5,233.33 277.5,233.48 278.5,233.63 279.5,233.77 280.5,233.91 281.5,234.05 282.5,234.18 283.5,234.31 284.5,234.44 285.5,234.56 286.5,234.68 287.5,234.79 288.5,234.91 289.5,235.01 290.5,235.12 291.5,235.22 292.5,235.32 293.5,235.42 294.5,235.52 295.5,235.61 296.5,235.70 297.5,235.78 298.5,235.87 299.5,235.95 300.5,236.03 301.5,236.11 302.5,236.18 303.5,236.26 304.5,236.33 305.5,236.40 306.5,236.46 307.5,236.53 308.5,236.59 309.5,236.65 310.5,236.71 311.5,236.77 312.5,236.83 313.5,236.89 314.5,236.94 315.5,236.99 316.5,237.05 317.5,237.10 318.5,237.15 319.5,237.20 320.5,237.24 321.5,237.29 322.5,237.34 323.5,237.38 324.5,237.43 325.5,237.47 326.5,237.52 327.5,237.56 328.5,237.60 329.5,237.65 330.5,237.69 331.5,237.73 332.5,237.77 333.5,237.82 334.5,237.86 335.5,237.90 336.5,237.94 337.5,237.99 338.5,238.03 339.5,238.07 340.5,238.12 341.5,238.16 342.5,238.21 343.5,238.26 344.5,238.30 345.5,238.35 347.0,238.43" fill="none" stroke="rgb(250,0,5)" stroke-width="1.15" stroke-linejoin="round"/>
<path d="M52.5,218.51 53.5,217.56 54.5,216.58 55.5,215.60 56.5,214.60 57.5,213.60 58.5,212.59 59.5,211.58 60.5,210.57 61.5,209.57 62.5,208.57 63.5,207.59 64.5,206.62 65.5,205.66 66.5,204.73 67.5,203.82 68.5,202.94 69.5,202.09 70.5,201.27 71.5,200.48 72.5,199.74 73.5,199.04 74.5,198.38 75.5,197.77 76.5,197.21 77.5,196.70 78.5,196.23 79.5,195.78 80.5,195.34 81.5,194.91 82.5,194.47 83.5,194.01 84.5,193.52 85.5,192.98 86.5,192.40 87.5,191.75 88.5,191.02 89.5,190.21 90.5,189.30 91.5,188.29 92.5,187.20 93.5,186.02 94.5,184.77 95.5,183.46 96.5,182.10 97.5,180.70 98.5,179.26 99.5,177.79 100.5,176.31 101.5,174.83 102.5,173.34 103.5,171.87 104.5,170.42 105.5,169.00 106.5,167.62 107.5,166.29 108.5,165.02 109.5,163.81 110.5,162.67 111.5,161.60 112.5,160.61 113.5,159.70 114.5,158.88 115.5,158.14 116.5,157.50 117.5,156.95 118.5,156.50 119.5,156.16 120.5,155.93 121.5,155.80 122.5,155.77 123.5,155.82 124.5,155.94 125.5,156.13 126.5,156.37 127.5,156.65 128.5,156.96 129.5,157.29 130.5,157.62 131.5,157.96 132.5,158.28 133.5,158.59 134.5,158.85 135.5,159.07 136.5,159.25 137.5,159.39 138.5,159.50 139.5,159.60 140.5,159.68 141.5,159.77 142.5,159.86 143.5,159.97 144.5,160.10 145.5,160.27 146.5,160.48 147.5,160.74 148.5,161.07 149.5,161.46 150.5,161.93 151.5,162.45 152.5,163.04 153.5,163.68 154.5,164.36 155.5,165.09 156.5,165.85 157.5,166.65 158.5,167.48 159.5,168.33 160.5,169.19 161.5,170.07 162.5,170.95 163.5,171.84 164.5,172.72 165.5,173.60 166.5,174.46 167.5,175.31 168.5,176.15 169.5,176.97 170.5,177.78 171.5,178.57 172.5,179.36 173.5,180.13 174.5,180.90 175.5,181.66 176.5,182.41 177.5,183.15 178.5,183.89 179.5,184.63 180.5,185.36 181.5,186.08 182.5,186.81 183.5,187.53 184.5,188.26 185.5,188.98 186.5,189.70 187.5,190.42 188.5,191.15 189.5,191.87 190.5,192.59 191.5,193.30 192.5,194.02 193.5,194.74 194.5,195.45 195.5,196.16 196.5,196.87 197.5,197.57 198.5,198.28 199.5,198.97 200.5,199.67 201.5,200.36 202.5,201.05 203.5,201.74 204.5,202.42 205.5,203.09 206.5,203.76 207.5,204.43 208.5,205.09 209.5,205.75 210.5,206.40 211.5,207.04 212.5,207.68 213.5,208.32 214.5,208.94 215.5,209.56 216.5,210.17 217.5,210.78 218.5,211.38 219.5,211.97 220.5,212.55 221.5,213.13 222.5,213.70 223.5,214.26 224.5,214.81 225.5,215.35 226.5,215.88 227.5,216.40 228.5,216.92 229.5,217.42 230.5,217.92 231.5,218.40 232.5,218.88 233.5,219.34 234.5,219.80 235.5,220.24 236.5,220.68 237.5,221.10 238.5,221.52 239.5,221.93 240.5,222.32 241.5,222.71 242.5,223.09 243.5,223.47 244.5,223.83 245.5,224.18 246.5,224.53 247.5,224.87 248.5,225.20 249.5,225.52 250.5,225.83 251.5,226.14 252.5,226.44 253.5,226.73 254.5,227.01 255.5,227.29 256.5,227.56 257.5,227.82 258.5,228.08 259.5,228.33 260.5,228.57 261.5,228.80 262.5,229.03 263.5,229.26 264.5,229.47 265.5,229.68 266.5,229.89 267.5,230.09 268.5,230.28 269.5,230.47 270.5,230.65 271.5,230.83 272.5,231.00 273.5,231.16 274.5,231.32 275.5,231.48 276.5,231.63 277.5,231.78 278.5,231.92 279.5,232.06 280.5,232.19 281.5,232.32 282.5,232.45 283.5,232.57 284.5,232.69 285.5,232.80 286.5,232.91 287.5,233.02 288.5,233.12 289.5,233.23 290.5,233.32 291.5,233.42 292.5,233.51 293.5,233.60 294.5,233.69 295.5,233.77 296.5,233.85 297.5,233.93 298.5,234.01 299.5,234.08 300.5,234.16 301.5,234.23 302.5,234.30 303.5,234.37 304.5,234.44 305.5,234.50 306.5,234.57 307.5,234.63 308.5,234.69 309.5,234.76 310.5,234.82 311.5,234.88 312.5,234.94 313.5,235.00 314.5,235.06 315.5,235.12 316.5,235.18 317.5,235.24 318.5,235.30 319.5,235.36 320.5,235.43 321.5,235.49 322.5,235.55 323.5,235.62 324.5,235.68 325.5,235.75 326.5,235.81 327.5,235.88 328.5,235.95 329.5,236.03 330.5,236.10 331.5,236.17 332.5,236.25 333.5,236.33 334.5,236.41 335.5,236.50 336.5,236.58 337.5,236.67 338.5,236.77 339.5,236.86 340.5,236.96 341.5,237.06 342.5,237.16 343.5,237.27 344.5,237.38 345.5,237.50 347.0,237.67" fill="none" stroke="rgb(255,0,0)" stroke-width="1.15" stroke-linejoin="round"/>
</g>
<path d="M52.5,5.5 H347 V243 H52.5 Z" fill="none" stroke="#333" stroke-width="1"/>
<path d="M52.50,243 v2 M52.50,5.5 v2" stroke="#333" stroke-width="1"/>
<path d="M91.77,243 v4 M91.77,5.5 v4" stroke="#333" stroke-width="1"/>
<path d="M131.03,243 v2 M131.03,5.5 v2" stroke="#333" stroke-width="1"/>
<path d="M170.30,243 v4 M170.30,5.5 v4" stroke="#333" stroke-width="1"/>
<path d="M209.56,243 v2 M209.56,5.5 v2" stroke="#333" stroke-width="1"/>
<path d="M248.83,243 v4 M248.83,5.5 v4" stroke="#333" stroke-width="1"/>
<path d="M288.10,243 v2 M288.10,5.5 v2" stroke="#333" stroke-width="1"/>
<path d="M327.36,243 v4 M327.36,5.5 v4" stroke="#333" stroke-width="1"/>
<path d="M52.5,228.25 h-2 M347,228.25 h-2" stroke="#333" stroke-width="1"/>
<path d="M52.5,203.50 h-4 M347,203.50 h-4" stroke="#333" stroke-width="1"/>
<path d="M52.5,178.75 h-2 M347,178.75 h-2" stroke="#333" stroke-width="1"/>
<path d="M52.5,154.00 h-4 M347,154.00 h-4" stroke="#333" stroke-width="1"/>
<path d="M52.5,129.25 h-2 M347,129.25 h-2" stroke="#333" stroke-width="1"/>
<path d="M52.5,104.50 h-4 M347,104.50 h-4" stroke="#333" stroke-width="1"/>
<path d="M52.5,79.75 h-2 M347,79.75 h-2" stroke="#333" stroke-width="1"/>
<path d="M52.5,55.00 h-4 M347,55.00 h-4" stroke="#333" stroke-width="1"/>
<path d="M52.5,30.25 h-2 M347,30.25 h-2" stroke="#333" stroke-width="1"/>
<path d="M52.5,5.50 h-4 M347,5.50 h-4" stroke="#333" stroke-width="1"/>
<text x="91.77" y="256.6" text-anchor="middle" font-size="9.6">320</text>
<text x="170.30" y="256.6" text-anchor="middle" font-size="9.6">360</text>
<text x="248.83" y="256.6" text-anchor="middle" font-size="9.6">400</text>
<text x="327.36" y="256.6" text-anchor="middle" font-size="9.6">440</text>
<text x="45.3" y="206.30" text-anchor="end" font-size="9.6">50</text>
<text x="45.3" y="156.80" text-anchor="end" font-size="9.6">75</text>
<text x="45.3" y="107.30" text-anchor="end" font-size="9.6">100</text>
<text x="45.3" y="57.80" text-anchor="end" font-size="9.6">125</text>
<text x="45.3" y="8.30" text-anchor="end" font-size="9.6">150</text>
<text x="199.6" y="273.0" text-anchor="middle" font-size="11.4">wavelength (nm)</text>
<text transform="translate(17.6,118.3) rotate(-90)" text-anchor="middle" font-size="11.45">Fluorescence (a.u.)</text>
<text x="5.0" y="18.9" font-size="21.8" font-weight="bold">A</text>
<path d="M412.9,5.5 H707.5 V243 H412.9 Z" fill="none" stroke="#333" stroke-width="1"/>
<path d="M416.40,243 v4 M416.40,5.5 v4" stroke="#333" stroke-width="1"/>
<path d="M454.92,243 v2 M454.92,5.5 v2" stroke="#333" stroke-width="1"/>
<path d="M493.44,243 v4 M493.44,5.5 v4" stroke="#333" stroke-width="1"/>
<path d="M531.96,243 v2 M531.96,5.5 v2" stroke="#333" stroke-width="1"/>
<path d="M570.48,243 v4 M570.48,5.5 v4" stroke="#333" stroke-width="1"/>
<path d="M609.00,243 v2 M609.00,5.5 v2" stroke="#333" stroke-width="1"/>
<path d="M647.52,243 v4 M647.52,5.5 v4" stroke="#333" stroke-width="1"/>
<path d="M686.04,243 v2 M686.04,5.5 v2" stroke="#333" stroke-width="1"/>
<path d="M412.9,242.90 h-4 M707.5,242.90 h-4" stroke="#333" stroke-width="1"/>
<path d="M412.9,221.30 h-2 M707.5,221.30 h-2" stroke="#333" stroke-width="1"/>
<path d="M412.9,199.70 h-4 M707.5,199.70 h-4" stroke="#333" stroke-width="1"/>
<path d="M412.9,178.10 h-2 M707.5,178.10 h-2" stroke="#333" stroke-width="1"/>
<path d="M412.9,156.50 h-4 M707.5,156.50 h-4" stroke="#333" stroke-width="1"/>
<path d="M412.9,134.90 h-2 M707.5,134.90 h-2" stroke="#333" stroke-width="1"/>
<path d="M412.9,113.30 h-4 M707.5,113.30 h-4" stroke="#333" stroke-width="1"/>
<path d="M412.9,91.70 h-2 M707.5,91.70 h-2" stroke="#333" stroke-width="1"/>
<path d="M412.9,70.10 h-4 M707.5,70.10 h-4" stroke="#333" stroke-width="1"/>
<path d="M412.9,48.50 h-2 M707.5,48.50 h-2" stroke="#333" stroke-width="1"/>
<path d="M412.9,26.90 h-4 M707.5,26.90 h-4" stroke="#333" stroke-width="1"/>
<path d="M412.9,5.30 h-2 M707.5,5.30 h-2" stroke="#333" stroke-width="1"/>
<path d="M416.40,31.90 418.33,32.43 420.25,33.44 422.18,34.74 424.10,36.27 426.03,37.98 427.96,39.82 429.88,41.77 431.81,43.81 433.73,45.91 435.66,48.06 437.59,50.23 439.51,52.42 441.44,54.61 443.36,56.79 445.29,58.97 447.22,61.12 449.14,63.24 451.07,65.33 452.99,67.39 454.92,69.41 456.85,71.39 458.77,73.32 460.70,75.21 462.62,77.06 464.55,78.85 466.48,80.61 468.40,82.31 470.33,83.97 472.25,85.58 474.18,87.15 476.11,88.68 478.03,90.16 479.96,91.59 481.88,92.99 483.81,94.34 485.74,95.66 487.66,96.93 489.59,98.17 491.51,99.37 493.44,100.54 495.37,101.67 497.29,102.76 499.22,103.83 501.14,104.86 503.07,105.86 505.00,106.84 506.92,107.78 508.85,108.70 510.77,109.59 512.70,110.45 514.63,111.29 516.55,112.11 518.48,112.90 520.40,113.67 522.33,114.42 524.26,115.15 526.18,115.86 528.11,116.54 530.03,117.21 531.96,117.86 533.89,118.50 535.81,119.11 537.74,119.71 539.66,120.30 541.59,120.86 543.52,121.42 545.44,121.96 547.37,122.48 549.29,122.99 551.22,123.49 553.15,123.98 555.07,124.45 557.00,124.91 558.92,125.37 560.85,125.80 562.78,126.23 564.70,126.65 566.63,127.06 568.55,127.46 570.48,127.85 572.41,128.23 574.33,128.60 576.26,128.96 578.18,129.32 580.11,129.66 582.04,130.00 583.96,130.33 585.89,130.66 587.81,130.97 589.74,131.28 591.67,131.58 593.59,131.88 595.52,132.17 597.44,132.45 599.37,132.73 601.30,133.00 603.22,133.27 605.15,133.53 607.07,133.78 609.00,134.03 610.93,134.28 612.85,134.52 614.78,134.75 616.70,134.98 618.63,135.21 620.56,135.43 622.48,135.64 624.41,135.86 626.33,136.07 628.26,136.27 630.19,136.47 632.11,136.67 634.04,136.86 635.96,137.05 637.89,137.24 639.82,137.42 641.74,137.60 643.67,137.77 645.59,137.95 647.52,138.12 649.45,138.28 651.37,138.45 653.30,138.61 655.22,138.76 657.15,138.92 659.08,139.07 661.00,139.22 662.93,139.37 664.85,139.51 666.78,139.66 668.71,139.80 670.63,139.93 672.56,140.07 674.48,140.20 676.41,140.33 678.34,140.46 680.26,140.59 682.19,140.71 684.11,140.84 686.04,140.96" fill="none" stroke="#e8161b" stroke-width="1.3"/>
<rect x="414.15" y="24.65" width="4.5" height="4.5" fill="#000"/>
<rect x="424.01" y="38.26" width="4.5" height="4.5" fill="#000"/>
<rect x="433.41" y="49.71" width="4.5" height="4.5" fill="#000"/>
<rect x="443.23" y="58.56" width="4.5" height="4.5" fill="#000"/>
<rect x="453.06" y="67.85" width="4.5" height="4.5" fill="#000"/>
<rect x="471.93" y="79.30" width="4.5" height="4.5" fill="#000"/>
<rect x="491.19" y="92.69" width="4.5" height="4.5" fill="#000"/>
<rect x="529.71" y="115.37" width="4.5" height="4.5" fill="#000"/>
<rect x="568.23" y="134.81" width="4.5" height="4.5" fill="#000"/>
<rect x="606.75" y="137.83" width="4.5" height="4.5" fill="#000"/>
<rect x="683.79" y="134.38" width="4.5" height="4.5" fill="#000"/>
<text x="416.40" y="256.6" text-anchor="middle" font-size="9.6">0</text>
<text x="493.44" y="256.6" text-anchor="middle" font-size="9.6">20</text>
<text x="570.48" y="256.6" text-anchor="middle" font-size="9.6">40</text>
<text x="647.52" y="256.6" text-anchor="middle" font-size="9.6">60</text>
<text x="405.6" y="245.90" text-anchor="end" font-size="9.6">0.0</text>
<text x="405.6" y="202.70" text-anchor="end" font-size="9.6">0.2</text>
<text x="405.6" y="159.50" text-anchor="end" font-size="9.6">0.4</text>
<text x="405.6" y="116.30" text-anchor="end" font-size="9.6">0.6</text>
<text x="405.6" y="73.10" text-anchor="end" font-size="9.6">0.8</text>
<text x="405.6" y="29.90" text-anchor="end" font-size="9.6">1.0</text>
<text x="533" y="273.3" font-size="11.25">ZnCl<tspan font-size="8.8" dy="3.1">2</tspan><tspan dy="-3.1"> (μM)</tspan></text>
<text transform="translate(377.8,118.75) rotate(-90)" text-anchor="middle" font-size="11.4">f/f<tspan font-size="8.6" dy="3.0">0</tspan><tspan dy="-3.0"> at 347 nm (a.u.)</tspan></text>
<text x="364.2" y="19.8" font-size="21.2" font-weight="bold">B</text>
</svg>
</body></html>
